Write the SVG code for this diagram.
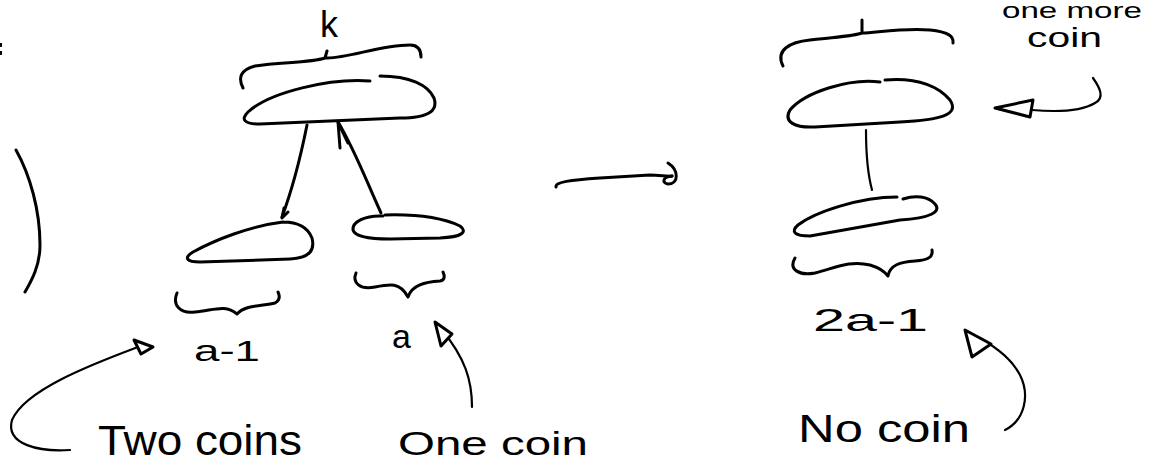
<svg xmlns="http://www.w3.org/2000/svg" width="1152" height="470" viewBox="0 0 1152 470">
<style>
.s{fill:none;stroke:#000;stroke-width:3;stroke-linecap:round;stroke-linejoin:round}
.t{stroke-width:2.2}
.h{fill:#fff;stroke:#000;stroke-width:3;stroke-linejoin:round}
.tx{font-family:"Liberation Sans",Arial,sans-serif;fill:#000}
</style>
<rect width="1152" height="470" fill="#fff"/>
<g id="margin-mark">
<rect x="0" y="43" width="2" height="4" fill="#000"/>
<rect x="0" y="51" width="2" height="4" fill="#000"/>
</g>
<g id="left-paren">
<path class="s" d="M16,150 C30,175 40,210 40,245 C40,265 32,280 25,292"/>
</g>
<g id="label-k">
<text class="tx" x="320" y="37" font-size="36">k</text>
</g>
<g id="brace-top-left">
<path class="s" d="M243,88 C238,78 240,70 255,66 C280,62 310,63 325,58 L327,51 M327,58 C350,58 380,45 410,45 C418,45 421,50 421,57"/>
</g>
<g id="node-top-left">
<path class="s" d="M370,81 C330,78 270,92 248,112 C240,120 245,124 260,124 L400,118 C430,118 438,110 434,98 C428,85 410,76 380,76"/>
</g>
<g id="node-child-left">
<path class="s" d="M283,222 C250,226 215,240 193,252 C183,258 187,262 200,262 L290,259 C310,258 315,250 312,238 C308,228 298,222 283,222"/>
</g>
<g id="node-child-right">
<path class="s" d="M383,216 C365,215 352,222 353,230 C355,237 370,239 390,239 L440,238 C462,237 468,232 460,226 C445,219 420,214 385,215"/>
</g>
<g id="brace-a-1">
<path class="s" d="M177,293 C172,305 180,314 195,312 C215,310 225,304 237,314 C245,305 262,306 275,303 C280,300 280,296 278,292"/>
</g>
<g id="brace-a">
<path class="s" d="M356,273 C352,283 360,290 375,287 C390,284 400,282 408,297 C412,285 425,282 440,281 C445,280 445,276 443,272"/>
</g>
<g id="label-a-1">
<text class="tx" x="194" y="361" font-size="30" textLength="66" lengthAdjust="spacingAndGlyphs">a-1</text>
</g>
<g id="label-a">
<text class="tx" x="392" y="348" font-size="34">a</text>
</g>
<g id="label-two-coins">
<text class="tx" x="98" y="455" font-size="42" textLength="204" lengthAdjust="spacingAndGlyphs">Two coins</text>
</g>
<g id="label-one-coin">
<text class="tx" x="398" y="455" font-size="34" textLength="190" lengthAdjust="spacingAndGlyphs">One coin</text>
</g>
<g id="brace-top-right">
<path class="s" d="M783,66 C775,50 790,42 810,40 C835,37 855,36 862,33 L862,20 M862,33 C880,32 905,28 930,30 C948,32 954,36 953,43"/>
</g>
<g id="node-top-right">
<path class="s" d="M880,82 C850,78 805,92 790,110 C783,122 795,128 815,127 L900,122 C940,120 960,115 950,100 C940,88 920,77 885,80"/>
</g>
<g id="node-bottom-right">
<path class="s" d="M897,197 C860,197 815,212 798,225 C790,232 795,236 810,236 L900,220 C930,218 942,212 935,204 C928,196 915,195 903,199"/>
</g>
<g id="brace-2a-1">
<path class="s" d="M795,258 C788,270 800,276 815,273 C835,268 850,260 870,265 C880,268 885,272 888,276 C890,265 900,262 915,261 C930,260 933,256 932,250"/>
</g>
<g id="label-2a-1">
<text class="tx" x="813" y="331" font-size="32" textLength="115" lengthAdjust="spacingAndGlyphs">2a-1</text>
</g>
<g id="label-no-coin">
<text class="tx" x="798" y="442" font-size="38" textLength="172" lengthAdjust="spacingAndGlyphs">No coin</text>
</g>
<g id="label-one-more-coin">
<text class="tx" x="1002" y="18" font-size="22" textLength="140" lengthAdjust="spacingAndGlyphs">one more</text>
<text class="tx" x="1027" y="47" font-size="28" textLength="75" lengthAdjust="spacingAndGlyphs">coin</text>
</g>
<g id="connectors">
<path class="s" d="M307,125 C300,160 292,190 282,217"/>
<path class="s" d="M284,208 L282,218 L288,212"/>
<path class="s" d="M338,122 C355,150 368,185 381,213"/>
<path class="s" d="M338,122 L340,148 M338,122 L348,143"/>
<path class="s t" d="M866,130 C866,155 868,175 872,190"/>
<path class="s" d="M556,187 C555,182 570,180 600,178 L650,175 C660,175 668,177 672,176"/>
<path class="s" d="M668,163 C679,170 679,184 668,184 C662,183 662,177 672,176"/>
<path class="s t" d="M70,450 C40,452 5,445 12,420 C25,390 90,365 138,347"/>
<path class="h" d="M153,347 L134,340 L141,354 Z"/>
<path class="s t" d="M472,407 C472,380 465,358 442,330"/>
<path class="h" d="M435,322 L452,334 L441,346 Z"/>
<path class="s t" d="M1005,430 C1025,420 1030,395 1020,375 C1012,360 1000,350 980,338"/>
<path class="h" d="M965,330 L991,344 L972,357 Z"/>
<path class="s t" d="M1093,78 C1100,88 1105,98 1095,103 C1080,112 1055,112 1032,110"/>
<path class="h" d="M995,108 L1033,100 L1030,117 Z"/>
</g>
</svg>
